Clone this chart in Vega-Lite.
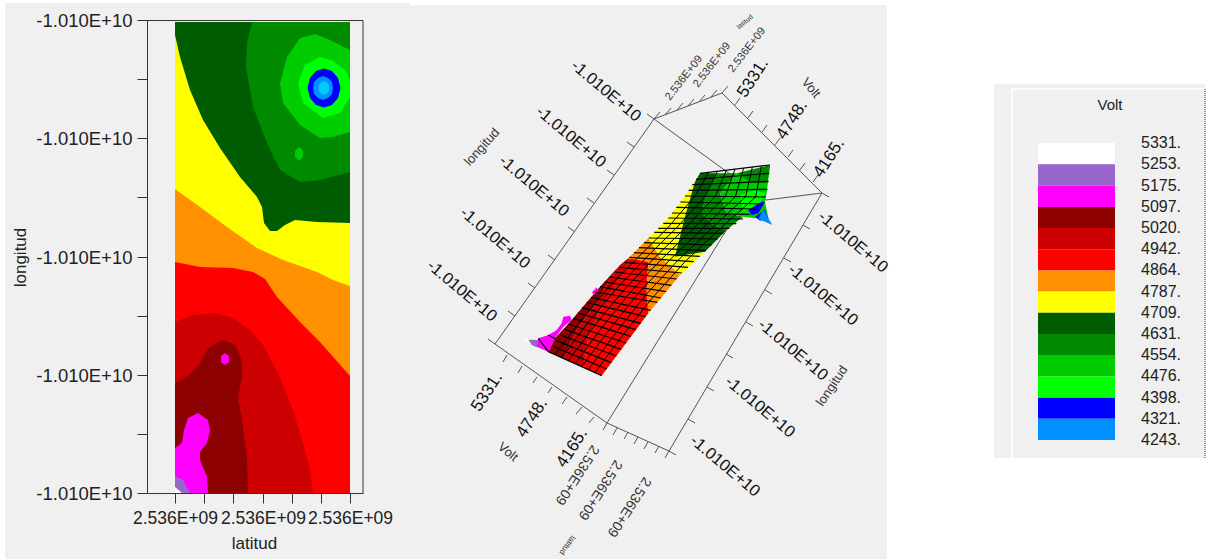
{"$schema":"https://vega.github.io/schema/vega-lite/v6.json","width":1208,"height":559,"padding":0,"autosize":{"type":"none"},"background":"#ffffff","config":{"view":{"stroke":null},"text":{"font":"Liberation Sans"},"axis":{"labelFont":"Liberation Sans","titleFont":"Liberation Sans"}},
"encoding":{"color":{"field":"b","type":"nominal","legend":null,"scale":{"domain":["5331","5253","5175","5097","5020","4942","4864","4787","4709","4631","4554","4476","4398","4321","4165"],"range":["#ffffff","#9966cc","#ff00ff","#8c0000","#cc0000","#ff0000","#ff9000","#ffff00","#005c00","#008a00","#00cc00","#00ff00","#0000ff","#0090ff","#00ccff"]}}},
"resolve":{"scale":{"x":"independent","y":"independent"}},
"layer":[
{"encoding":{"x":{"field":"x","type":"quantitative","axis":null,"scale":{"domain":[0,1208],"range":[0,1208],"nice":false,"zero":false}},"y":{"field":"y","type":"quantitative","axis":null,"scale":{"domain":[0,559],"range":[0,559],"nice":false,"zero":false}}},
"layer":[
{"data":{"values":[{"x":5,"x2":410,"y":3,"y2":559},{"x":410,"x2":887,"y":5,"y2":559},{"x":994,"x2":1205,"y":84,"y2":458}]},"mark":{"type":"rect","fill":"#f0f0f0"},"encoding":{"x2":{"field":"x2"},"y2":{"field":"y2"},"color":{"value":"#f0f0f0"}}},
{"data":{"values":[{"x":1012,"x2":1012,"y":89,"y2":458},{"x":1012,"x2":1204,"y":89,"y2":89}]},"mark":{"type":"rule","strokeWidth":1.5},"encoding":{"x2":{"field":"x2"},"y2":{"field":"y2"},"color":{"value":"#ffffff"}}},
{"data":{"values":[{"x":1205,"x2":1205,"y":89,"y2":458}]},"mark":{"type":"rule","strokeWidth":1.5,"strokeDash":[1,1]},"encoding":{"x2":{"field":"x2"},"y2":{"field":"y2"},"color":{"value":"#777777"}}},
{"data":{"values":[
{"x":654,"y":119,"x2":495,"y2":344},{"x":654,"y":119,"x2":722,"y2":93},{"x":722,"y":93,"x2":822,"y2":193},{"x":495,"y":344,"x2":607,"y2":423},{"x":607,"y":423,"x2":669,"y2":451},{"x":669,"y":451,"x2":822,"y2":193},{"x":654,"y":119,"x2":766,"y2":200},{"x":822,"y":193,"x2":766,"y2":200},{"x":607,"y":423,"x2":745,"y2":200},
{"x":654,"y":119,"x2":647,"y2":114},{"x":634,"y":147,"x2":627,"y2":142},{"x":614,"y":175,"x2":607,"y2":170},{"x":594,"y":203,"x2":587,"y2":198},{"x":575,"y":232,"x2":568,"y2":227},{"x":555,"y":260,"x2":548,"y2":255},{"x":535,"y":288,"x2":528,"y2":283},{"x":515,"y":316,"x2":508,"y2":311},{"x":495,"y":344,"x2":488,"y2":339},
{"x":669,"y":451,"x2":676,"y2":455},{"x":688,"y":419,"x2":695,"y2":423},{"x":707,"y":387,"x2":714,"y2":391},{"x":726,"y":354,"x2":733,"y2":358},{"x":746,"y":322,"x2":753,"y2":326},{"x":765,"y":290,"x2":772,"y2":294},{"x":784,"y":258,"x2":791,"y2":262},{"x":803,"y":225,"x2":810,"y2":229},{"x":822,"y":193,"x2":829,"y2":197},
{"x":735,"y":105,"x2":740,"y2":98},{"x":748,"y":118,"x2":753,"y2":111},{"x":762,"y":132,"x2":767,"y2":125},{"x":775,"y":145,"x2":780,"y2":138},{"x":788,"y":157,"x2":793,"y2":150},{"x":800,"y":170,"x2":805,"y2":163},{"x":813,"y":182,"x2":818,"y2":175},
{"x":507,"y":355,"x2":503,"y2":362},{"x":522,"y":366,"x2":518,"y2":373},{"x":537,"y":377,"x2":533,"y2":383},{"x":552,"y":387,"x2":548,"y2":393},{"x":567,"y":397,"x2":562,"y2":404},{"x":582,"y":407,"x2":576,"y2":414},{"x":594,"y":417,"x2":589,"y2":423},
{"x":654,"y":119,"x2":660,"y2":112},{"x":665,"y":115,"x2":671,"y2":108},{"x":677,"y":110,"x2":683,"y2":103},{"x":688,"y":106,"x2":694,"y2":99},{"x":699,"y":102,"x2":705,"y2":95},{"x":711,"y":97,"x2":717,"y2":90},{"x":722,"y":93,"x2":728,"y2":86},
{"x":607,"y":423,"x2":603,"y2":430},{"x":617,"y":428,"x2":613,"y2":435},{"x":628,"y":432,"x2":624,"y2":439},{"x":638,"y":437,"x2":634,"y2":444},{"x":648,"y":442,"x2":644,"y2":449},{"x":659,"y":446,"x2":655,"y2":453},{"x":669,"y":451,"x2":665,"y2":458}
]},"mark":{"type":"rule","strokeWidth":1},"encoding":{"x2":{"field":"x2"},"y2":{"field":"y2"},"color":{"value":"#555555"}}},
{"data":{"values":[{"x":147,"x2":363,"y":20.5,"y2":20.5},{"x":363,"x2":363,"y":20.5,"y2":493}]},"mark":{"type":"rule","strokeWidth":1},"encoding":{"x2":{"field":"x2"},"y2":{"field":"y2"},"color":{"value":"#333333"}}},
{"data":{"values":[{"x":606,"y":91,"t":"-1.010E+10"},{"x":571,"y":137,"t":"-1.010E+10"},{"x":534,"y":186,"t":"-1.010E+10"},{"x":495,"y":238,"t":"-1.010E+10"},{"x":462,"y":291,"t":"-1.010E+10"},{"x":725,"y":466,"t":"-1.010E+10"},{"x":760,"y":407,"t":"-1.010E+10"},{"x":793,"y":350,"t":"-1.010E+10"},{"x":823,"y":295,"t":"-1.010E+10"},{"x":853,"y":242,"t":"-1.010E+10"}]},"mark":{"type":"text","angle":40,"fontSize":16.5,"align":"center","baseline":"middle"},"encoding":{"text":{"field":"t"},"color":{"value":"#111111"}}},
{"data":{"values":[{"x":753,"y":78,"t":"5331."},{"x":792,"y":120,"t":"4748."},{"x":829,"y":158,"t":"4165."},{"x":487,"y":392,"t":"5331."},{"x":532,"y":418,"t":"4748."},{"x":572,"y":448,"t":"4165."}]},"mark":{"type":"text","angle":-57,"fontSize":17,"align":"center","baseline":"middle"},"encoding":{"text":{"field":"t"},"color":{"value":"#111111"}}},
{"data":{"values":[{"x":684,"y":78,"t":"2.536E+09"},{"x":712,"y":65,"t":"2.536E+09"},{"x":747,"y":50,"t":"2.536E+09"}]},"mark":{"type":"text","angle":-52,"fontSize":11,"align":"center","baseline":"middle"},"encoding":{"text":{"field":"t"},"color":{"value":"#333333"}}},
{"data":{"values":[{"x":745,"y":22,"t":"latitud"}]},"mark":{"type":"text","angle":-40,"fontSize":7,"align":"center","baseline":"middle"},"encoding":{"text":{"field":"t"},"color":{"value":"#333333"}}},
{"data":{"values":[{"x":577,"y":475,"t":"2.536E+09"},{"x":600,"y":490,"t":"2.536E+09"},{"x":629,"y":507,"t":"2.536E+09"}]},"mark":{"type":"text","angle":123,"fontSize":14,"align":"center","baseline":"middle"},"encoding":{"text":{"field":"t"},"color":{"value":"#333333"}}},
{"data":{"values":[{"x":567,"y":545,"t":"latitud"}]},"mark":{"type":"text","angle":125,"fontSize":8,"align":"center","baseline":"middle"},"encoding":{"text":{"field":"t"},"color":{"value":"#333333"}}},
{"data":{"values":[{"x":811,"y":88,"t":"Volt"}]},"mark":{"type":"text","angle":50,"fontSize":13,"align":"center","baseline":"middle"},"encoding":{"text":{"field":"t"},"color":{"value":"#333333"}}},
{"data":{"values":[{"x":508,"y":452,"t":"Volt"}]},"mark":{"type":"text","angle":40,"fontSize":13,"align":"center","baseline":"middle"},"encoding":{"text":{"field":"t"},"color":{"value":"#333333"}}},
{"data":{"values":[{"x":482,"y":147,"t":"longitud"}]},"mark":{"type":"text","angle":-48,"fontSize":13,"align":"center","baseline":"middle"},"encoding":{"text":{"field":"t"},"color":{"value":"#333333"}}},
{"data":{"values":[{"x":832,"y":386,"t":"longitud"}]},"mark":{"type":"text","angle":-56,"fontSize":13,"align":"center","baseline":"middle"},"encoding":{"text":{"field":"t"},"color":{"value":"#333333"}}},
{"data":{"values":[{"x":1110,"y":105,"t":"Volt"}]},"mark":{"type":"text","fontSize":15,"align":"center","baseline":"middle"},"encoding":{"text":{"field":"t"},"color":{"value":"#222222"}}}
]},
{"encoding":{"x":{"field":"x","type":"quantitative","axis":null,"scale":{"domain":[0,930],"range":[520,830],"nice":false,"zero":false}},"y":{"field":"y","type":"quantitative","axis":null,"scale":{"domain":[0,720],"range":[150,390],"nice":false,"zero":false}}},
"layer":[
{"data":{"values":[
{"g":1,"b":"5331","x":5,"y":565},{"g":1,"b":"5331","x":30,"y":570},{"g":1,"b":"5331","x":40,"y":587},
{"g":2,"b":"5253","x":25,"y":569},{"g":2,"b":"5253","x":60,"y":570},{"g":2,"b":"5253","x":50,"y":592},{"g":2,"b":"5253","x":35,"y":585},
{"g":3,"b":"5175","x":55,"y":565},{"g":3,"b":"5175","x":85,"y":555},{"g":3,"b":"5175","x":110,"y":540},{"g":3,"b":"5175","x":125,"y":520},{"g":3,"b":"5175","x":130,"y":500},{"g":3,"b":"5175","x":150,"y":497},{"g":3,"b":"5175","x":155,"y":510},{"g":3,"b":"5175","x":130,"y":530},{"g":3,"b":"5175","x":105,"y":565},{"g":3,"b":"5175","x":85,"y":605},{"g":3,"b":"5175","x":50,"y":590},
{"g":4,"b":"4942","x":190,"y":652},{"g":4,"b":"4942","x":205,"y":560},{"g":4,"b":"4942","x":245,"y":470},{"g":4,"b":"4942","x":290,"y":400},{"g":4,"b":"4942","x":325,"y":325},{"g":4,"b":"4942","x":385,"y":335},{"g":4,"b":"4942","x":380,"y":420},{"g":4,"b":"4942","x":385,"y":490},{"g":4,"b":"4942","x":245,"y":677},
{"g":5,"b":"5020","x":130,"y":625},{"g":5,"b":"5020","x":170,"y":540},{"g":5,"b":"5020","x":235,"y":450},{"g":5,"b":"5020","x":265,"y":395},{"g":5,"b":"5020","x":300,"y":345},{"g":5,"b":"5020","x":325,"y":325},{"g":5,"b":"5020","x":325,"y":335},{"g":5,"b":"5020","x":290,"y":400},{"g":5,"b":"5020","x":245,"y":470},{"g":5,"b":"5020","x":205,"y":560},{"g":5,"b":"5020","x":190,"y":652},
{"g":6,"b":"5097","x":85,"y":605},{"g":6,"b":"5097","x":105,"y":565},{"g":6,"b":"5097","x":155,"y":510},{"g":6,"b":"5097","x":240,"y":410},{"g":6,"b":"5097","x":300,"y":345},{"g":6,"b":"5097","x":265,"y":395},{"g":6,"b":"5097","x":235,"y":450},{"g":6,"b":"5097","x":170,"y":540},{"g":6,"b":"5097","x":130,"y":625},
{"g":7,"b":"5175","x":215,"y":428},{"g":7,"b":"5175","x":230,"y":412},{"g":7,"b":"5175","x":235,"y":425},{"g":7,"b":"5175","x":222,"y":432},
{"g":8,"b":"4864","x":325,"y":325},{"g":8,"b":"4864","x":385,"y":265},{"g":8,"b":"4864","x":420,"y":320},{"g":8,"b":"4864","x":480,"y":375},{"g":8,"b":"4864","x":385,"y":490},{"g":8,"b":"4864","x":380,"y":420},{"g":8,"b":"4864","x":385,"y":335},
{"g":9,"b":"4787","x":385,"y":265},{"g":9,"b":"4787","x":440,"y":210},{"g":9,"b":"4787","x":490,"y":145},{"g":9,"b":"4787","x":525,"y":95},{"g":9,"b":"4787","x":495,"y":200},{"g":9,"b":"4787","x":480,"y":260},{"g":9,"b":"4787","x":465,"y":320},{"g":9,"b":"4787","x":555,"y":305},{"g":9,"b":"4787","x":480,"y":375},{"g":9,"b":"4787","x":420,"y":320},
{"g":10,"b":"4709","x":540,"y":70},{"g":10,"b":"4709","x":525,"y":95},{"g":10,"b":"4709","x":495,"y":200},{"g":10,"b":"4709","x":480,"y":260},{"g":10,"b":"4709","x":465,"y":320},{"g":10,"b":"4709","x":555,"y":305},{"g":10,"b":"4709","x":620,"y":240},{"g":10,"b":"4709","x":580,"y":225},{"g":10,"b":"4709","x":545,"y":190},{"g":10,"b":"4709","x":560,"y":130},{"g":10,"b":"4709","x":590,"y":70},
{"g":11,"b":"4631","x":590,"y":70},{"g":11,"b":"4631","x":560,"y":130},{"g":11,"b":"4631","x":545,"y":190},{"g":11,"b":"4631","x":580,"y":225},{"g":11,"b":"4631","x":620,"y":240},{"g":11,"b":"4631","x":650,"y":215},{"g":11,"b":"4631","x":670,"y":200},{"g":11,"b":"4631","x":620,"y":190},{"g":11,"b":"4631","x":600,"y":130},{"g":11,"b":"4631","x":650,"y":70},
{"g":12,"b":"4554","x":650,"y":70},{"g":12,"b":"4554","x":600,"y":130},{"g":12,"b":"4554","x":620,"y":190},{"g":12,"b":"4554","x":670,"y":200},{"g":12,"b":"4554","x":705,"y":205},{"g":12,"b":"4554","x":745,"y":205},{"g":12,"b":"4554","x":735,"y":155},{"g":12,"b":"4554","x":740,"y":130},{"g":12,"b":"4554","x":750,"y":45},{"g":12,"b":"4554","x":700,"y":65},
{"g":18,"b":"4631","x":650,"y":70},{"g":18,"b":"4631","x":750,"y":45},{"g":18,"b":"4631","x":742,"y":100},{"g":18,"b":"4631","x":690,"y":95},
{"g":13,"b":"4476","x":660,"y":135},{"g":13,"b":"4476","x":705,"y":120},{"g":13,"b":"4476","x":735,"y":130},{"g":13,"b":"4476","x":715,"y":170},{"g":13,"b":"4476","x":670,"y":185},
{"g":14,"b":"4398","x":685,"y":180},{"g":14,"b":"4398","x":725,"y":155},{"g":14,"b":"4398","x":735,"y":155},{"g":14,"b":"4398","x":715,"y":190},{"g":14,"b":"4398","x":695,"y":195},
{"g":15,"b":"4398","x":705,"y":200},{"g":15,"b":"4398","x":735,"y":180},{"g":15,"b":"4398","x":745,"y":205},{"g":15,"b":"4398","x":720,"y":212},
{"g":16,"b":"4321","x":730,"y":178},{"g":16,"b":"4321","x":757,"y":225},{"g":16,"b":"4321","x":715,"y":207}
]},"mark":{"type":"line","filled":true,"order":false},"encoding":{"detail":{"field":"g"}}},
{"data":{"values":[
{"x":85,"y":605,"x2":245,"y2":677},{"x":97,"y":588,"x2":260,"y2":657},{"x":109,"y":572,"x2":274,"y2":638},{"x":121,"y":555,"x2":289,"y2":618},{"x":134,"y":538,"x2":304,"y2":598},{"x":146,"y":522,"x2":318,"y2":579},{"x":160,"y":505,"x2":333,"y2":559},{"x":173,"y":489,"x2":348,"y2":539},{"x":186,"y":473,"x2":362,"y2":520},{"x":200,"y":457,"x2":377,"y2":500},{"x":213,"y":442,"x2":392,"y2":481},{"x":226,"y":426,"x2":412,"y2":457},{"x":240,"y":410,"x2":423,"y2":444},{"x":254,"y":396,"x2":438,"y2":425},{"x":269,"y":381,"x2":454,"y2":406},{"x":284,"y":366,"x2":470,"y2":387},{"x":298,"y":352,"x2":486,"y2":369},{"x":313,"y":337,"x2":504,"y2":352},{"x":328,"y":322,"x2":521,"y2":335},{"x":342,"y":308,"x2":539,"y2":319},{"x":357,"y":293,"x2":558,"y2":302},{"x":372,"y":278,"x2":575,"y2":285},{"x":386,"y":264,"x2":593,"y2":267},{"x":403,"y":247,"x2":610,"y2":250},{"x":415,"y":235,"x2":628,"y2":235},{"x":430,"y":220,"x2":649,"y2":221},{"x":445,"y":204,"x2":669,"y2":207},{"x":456,"y":189,"x2":689,"y2":193},{"x":469,"y":172,"x2":708,"y2":177},{"x":481,"y":156,"x2":727,"y2":162},{"x":495,"y":138,"x2":737,"y2":141},{"x":506,"y":121,"x2":742,"y2":118},{"x":517,"y":104,"x2":746,"y2":94},{"x":528,"y":88,"x2":748,"y2":70},{"x":540,"y":70,"x2":750,"y2":45},{"x":85,"y":555,"x2":105,"y2":566},{"x":55,"y":565,"x2":85,"y2":605}
]},"mark":{"type":"rule","strokeWidth":1.2},"encoding":{"x2":{"field":"x2"},"y2":{"field":"y2"},"color":{"value":"#000000"}}},
{"data":{"values":[
{"m":1,"x":105,"y":614},{"m":1,"x":182,"y":512},{"m":1,"x":263,"y":414},{"m":1,"x":352,"y":324},{"m":1,"x":442,"y":235},{"m":1,"x":525,"y":138},{"m":1,"x":566,"y":67},
{"m":2,"x":125,"y":623},{"m":2,"x":203,"y":519},{"m":2,"x":286,"y":419},{"m":2,"x":376,"y":325},{"m":2,"x":468,"y":235},{"m":2,"x":556,"y":139},{"m":2,"x":592,"y":64},
{"m":3,"x":145,"y":632},{"m":3,"x":225,"y":525},{"m":3,"x":309,"y":423},{"m":3,"x":400,"y":327},{"m":3,"x":495,"y":235},{"m":3,"x":586,"y":139},{"m":3,"x":619,"y":61},
{"m":4,"x":165,"y":641},{"m":4,"x":246,"y":532},{"m":4,"x":331,"y":427},{"m":4,"x":424,"y":328},{"m":4,"x":521,"y":235},{"m":4,"x":616,"y":139},{"m":4,"x":645,"y":57},
{"m":5,"x":185,"y":650},{"m":5,"x":268,"y":539},{"m":5,"x":354,"y":431},{"m":5,"x":449,"y":330},{"m":5,"x":548,"y":235},{"m":5,"x":646,"y":140},{"m":5,"x":671,"y":54},
{"m":6,"x":205,"y":659},{"m":6,"x":290,"y":545},{"m":6,"x":377,"y":435},{"m":6,"x":473,"y":332},{"m":6,"x":575,"y":235},{"m":6,"x":677,"y":140},{"m":6,"x":697,"y":51},
{"m":7,"x":225,"y":668},{"m":7,"x":311,"y":552},{"m":7,"x":400,"y":440},{"m":7,"x":497,"y":333},{"m":7,"x":601,"y":235},{"m":7,"x":707,"y":141},{"m":7,"x":724,"y":48}
]},"mark":{"type":"line","strokeWidth":1,"order":false},"encoding":{"detail":{"field":"m"},"color":{"value":"#000000"}}}
]},
{"data":{"values":[
{"g":1,"b":"4942","lat":0,"lon":0},{"g":1,"b":"4942","lat":175,"lon":0},{"g":1,"b":"4942","lat":175,"lon":471},{"g":1,"b":"4942","lat":0,"lon":471},
{"g":2,"b":"4864","lat":0,"lon":231},{"g":2,"b":"4864","lat":25,"lon":226},{"g":2,"b":"4864","lat":58,"lon":225},{"g":2,"b":"4864","lat":78,"lon":221},{"g":2,"b":"4864","lat":90,"lon":214},{"g":2,"b":"4864","lat":102,"lon":196},{"g":2,"b":"4864","lat":125,"lon":171},{"g":2,"b":"4864","lat":145,"lon":151},{"g":2,"b":"4864","lat":175,"lon":117},{"g":2,"b":"4864","lat":175,"lon":471},{"g":2,"b":"4864","lat":0,"lon":471},
{"g":3,"b":"4787","lat":0,"lon":304},{"g":3,"b":"4787","lat":25,"lon":286},{"g":3,"b":"4787","lat":52,"lon":266},{"g":3,"b":"4787","lat":82,"lon":245},{"g":3,"b":"4787","lat":108,"lon":233},{"g":3,"b":"4787","lat":142,"lon":221},{"g":3,"b":"4787","lat":158,"lon":213},{"g":3,"b":"4787","lat":175,"lon":207},{"g":3,"b":"4787","lat":175,"lon":471},{"g":3,"b":"4787","lat":0,"lon":471},
{"g":4,"b":"4709","lat":0,"lon":458},{"g":4,"b":"4709","lat":5,"lon":436},{"g":4,"b":"4709","lat":15,"lon":403},{"g":4,"b":"4709","lat":28,"lon":373},{"g":4,"b":"4709","lat":45,"lon":345},{"g":4,"b":"4709","lat":65,"lon":316},{"g":4,"b":"4709","lat":82,"lon":296},{"g":4,"b":"4709","lat":87,"lon":286},{"g":4,"b":"4709","lat":89,"lon":270},{"g":4,"b":"4709","lat":95,"lon":262},{"g":4,"b":"4709","lat":102,"lon":262},{"g":4,"b":"4709","lat":110,"lon":268},{"g":4,"b":"4709","lat":120,"lon":273},{"g":4,"b":"4709","lat":142,"lon":271},{"g":4,"b":"4709","lat":175,"lon":270},{"g":4,"b":"4709","lat":175,"lon":471},{"g":4,"b":"4709","lat":0,"lon":471},
{"g":5,"b":"4631","lat":77,"lon":471},{"g":5,"b":"4631","lat":72,"lon":450},{"g":5,"b":"4631","lat":71,"lon":426},{"g":5,"b":"4631","lat":78,"lon":386},{"g":5,"b":"4631","lat":92,"lon":350},{"g":5,"b":"4631","lat":105,"lon":323},{"g":5,"b":"4631","lat":125,"lon":311},{"g":5,"b":"4631","lat":145,"lon":313},{"g":5,"b":"4631","lat":175,"lon":321},{"g":5,"b":"4631","lat":175,"lon":471},
{"g":6,"b":"4554","lat":175,"lon":443},{"g":6,"b":"4554","lat":155,"lon":453},{"g":6,"b":"4554","lat":140,"lon":459},{"g":6,"b":"4554","lat":125,"lon":455},{"g":6,"b":"4554","lat":112,"lon":436},{"g":6,"b":"4554","lat":105,"lon":410},{"g":6,"b":"4554","lat":108,"lon":390},{"g":6,"b":"4554","lat":125,"lon":368},{"g":6,"b":"4554","lat":145,"lon":355},{"g":6,"b":"4554","lat":158,"lon":356},{"g":6,"b":"4554","lat":175,"lon":361},
{"g":7,"b":"4554","lat":124,"lon":346},{"g":7,"b":"4554","lat":128,"lon":342},{"g":7,"b":"4554","lat":128,"lon":336},{"g":7,"b":"4554","lat":124,"lon":332},{"g":7,"b":"4554","lat":120,"lon":336},{"g":7,"b":"4554","lat":120,"lon":342},
{"g":8,"b":"4476","lat":175,"lon":413},{"g":8,"b":"4476","lat":170,"lon":423},{"g":8,"b":"4476","lat":158,"lon":432},{"g":8,"b":"4476","lat":145,"lon":436},{"g":8,"b":"4476","lat":130,"lon":428},{"g":8,"b":"4476","lat":123,"lon":410},{"g":8,"b":"4476","lat":128,"lon":390},{"g":8,"b":"4476","lat":148,"lon":375},{"g":8,"b":"4476","lat":165,"lon":380},{"g":8,"b":"4476","lat":175,"lon":396},
{"g":9,"b":"4398","lat":165.5,"lon":405},{"g":9,"b":"4398","lat":163,"lon":415},{"g":9,"b":"4398","lat":157,"lon":422},{"g":9,"b":"4398","lat":149,"lon":424.5},{"g":9,"b":"4398","lat":141,"lon":422},{"g":9,"b":"4398","lat":135,"lon":415},{"g":9,"b":"4398","lat":132.5,"lon":405},{"g":9,"b":"4398","lat":135,"lon":395},{"g":9,"b":"4398","lat":141,"lon":388},{"g":9,"b":"4398","lat":149,"lon":385.5},{"g":9,"b":"4398","lat":157,"lon":388},{"g":9,"b":"4398","lat":163,"lon":395},
{"g":10,"b":"4321","lat":158,"lon":405},{"g":10,"b":"4321","lat":157,"lon":411},{"g":10,"b":"4321","lat":153,"lon":415},{"g":10,"b":"4321","lat":148,"lon":417},{"g":10,"b":"4321","lat":143,"lon":415},{"g":10,"b":"4321","lat":139,"lon":411},{"g":10,"b":"4321","lat":138,"lon":405},{"g":10,"b":"4321","lat":139,"lon":399},{"g":10,"b":"4321","lat":143,"lon":395},{"g":10,"b":"4321","lat":148,"lon":393},{"g":10,"b":"4321","lat":153,"lon":395},{"g":10,"b":"4321","lat":157,"lon":399},
{"g":11,"b":"4165","lat":154.5,"lon":405},{"g":11,"b":"4165","lat":153,"lon":410},{"g":11,"b":"4165","lat":149,"lon":412},{"g":11,"b":"4165","lat":145,"lon":410},{"g":11,"b":"4165","lat":143.5,"lon":405},{"g":11,"b":"4165","lat":145,"lon":400},{"g":11,"b":"4165","lat":149,"lon":398},{"g":11,"b":"4165","lat":153,"lon":400},
{"g":12,"b":"5020","lat":0,"lon":171},{"g":12,"b":"5020","lat":18,"lon":178},{"g":12,"b":"5020","lat":38,"lon":180},{"g":12,"b":"5020","lat":58,"lon":175},{"g":12,"b":"5020","lat":75,"lon":163},{"g":12,"b":"5020","lat":88,"lon":148},{"g":12,"b":"5020","lat":105,"lon":116},{"g":12,"b":"5020","lat":118,"lon":83},{"g":12,"b":"5020","lat":128,"lon":50},{"g":12,"b":"5020","lat":135,"lon":23},{"g":12,"b":"5020","lat":138,"lon":0},{"g":12,"b":"5020","lat":0,"lon":0},
{"g":13,"b":"5097","lat":0,"lon":110},{"g":13,"b":"5097","lat":12,"lon":116},{"g":13,"b":"5097","lat":25,"lon":130},{"g":13,"b":"5097","lat":33,"lon":145},{"g":13,"b":"5097","lat":48,"lon":153},{"g":13,"b":"5097","lat":60,"lon":148},{"g":13,"b":"5097","lat":67,"lon":133},{"g":13,"b":"5097","lat":67,"lon":116},{"g":13,"b":"5097","lat":63,"lon":96},{"g":13,"b":"5097","lat":67,"lon":73},{"g":13,"b":"5097","lat":72,"lon":36},{"g":13,"b":"5097","lat":73,"lon":0},{"g":13,"b":"5097","lat":0,"lon":0},
{"g":14,"b":"5175","lat":0,"lon":45},{"g":14,"b":"5175","lat":7,"lon":50},{"g":14,"b":"5175","lat":9,"lon":63},{"g":14,"b":"5175","lat":13,"lon":75},{"g":14,"b":"5175","lat":23,"lon":80},{"g":14,"b":"5175","lat":33,"lon":73},{"g":14,"b":"5175","lat":35,"lon":63},{"g":14,"b":"5175","lat":32,"lon":50},{"g":14,"b":"5175","lat":25,"lon":41},{"g":14,"b":"5175","lat":25,"lon":33},{"g":14,"b":"5175","lat":32,"lon":16},{"g":14,"b":"5175","lat":33,"lon":0},{"g":14,"b":"5175","lat":0,"lon":0},
{"g":15,"b":"5175","lat":50,"lon":140},{"g":15,"b":"5175","lat":54,"lon":137},{"g":15,"b":"5175","lat":54,"lon":131},{"g":15,"b":"5175","lat":50,"lon":128},{"g":15,"b":"5175","lat":46,"lon":131},{"g":15,"b":"5175","lat":46,"lon":137},
{"g":16,"b":"5253","lat":0,"lon":17},{"g":16,"b":"5253","lat":8,"lon":13},{"g":16,"b":"5253","lat":15,"lon":0},{"g":16,"b":"5253","lat":0,"lon":0},
{"g":17,"b":"5331","lat":0,"lon":6},{"g":17,"b":"5331","lat":7,"lon":0},{"g":17,"b":"5331","lat":0,"lon":0}
]},"mark":{"type":"line","filled":true,"order":false},"encoding":{"detail":{"field":"g"},"x":{"field":"lat","type":"quantitative","scale":{"domain":[-28,188],"range":[147,363],"nice":false,"zero":false},"axis":{"zindex":1,"orient":"bottom","offset":-66,"title":"latitud","titleFontSize":17,"titleFontWeight":"normal","titleColor":"#222222","titleX":254,"titleY":50,"titleAlign":"center","titleBaseline":"middle","values":[0,29,58,88,117,146,175],"labelExpr":"indexof([0,88,175],datum.value)>=0?'2.536E+09':''","labelFontSize":17.5,"labelColor":"#222222","labelPadding":6,"labelOverlap":false,"labelFlush":false,"labelBound":false,"tickSize":10,"tickColor":"#333333","domainColor":"#333333","grid":false}},
"y":{"field":"lon","type":"quantitative","scale":{"domain":[0,473],"range":[493,20],"nice":false,"zero":false},"axis":{"zindex":1,"orient":"left","offset":-147,"title":"longitud","titleFontSize":17,"titleFontWeight":"normal","titleColor":"#222222","titleX":-127,"titleY":257,"titleAlign":"center","titleBaseline":"middle","values":[0,59,118,177,236,296,355,414,473],"labelExpr":"indexof([0,118,236,355,473],datum.value)>=0?'-1.010E+10':''","labelFontSize":18.5,"labelColor":"#222222","labelPadding":5,"labelOverlap":false,"labelFlush":false,"labelBound":false,"tickSize":10,"tickColor":"#333333","domainColor":"#333333","grid":false}}}},
{"encoding":{"y":{"field":"v","type":"quantitative","axis":null,"scale":{"domain":[4243,5331],"range":[440,143],"nice":false,"zero":false}}},
"layer":[
{"data":{"values":[{"b":"5331","v":5331,"v2":5253},{"b":"5253","v":5253,"v2":5175},{"b":"5175","v":5175,"v2":5097},{"b":"5097","v":5097,"v2":5020},{"b":"5020","v":5020,"v2":4942},{"b":"4942","v":4942,"v2":4864},{"b":"4864","v":4864,"v2":4787},{"b":"4787","v":4787,"v2":4709},{"b":"4709","v":4709,"v2":4631},{"b":"4631","v":4631,"v2":4554},{"b":"4554","v":4554,"v2":4476},{"b":"4476","v":4476,"v2":4398},{"b":"4398","v":4398,"v2":4321},{"b":"4321","v":4321,"v2":4243}]},"mark":{"type":"rect"},"encoding":{"y2":{"field":"v2"},"x":{"value":1038},"x2":{"value":1115}}},
{"data":{"values":[{"v":5331,"t":"5331."},{"v":5253,"t":"5253."},{"v":5175,"t":"5175."},{"v":5097,"t":"5097."},{"v":5020,"t":"5020."},{"v":4942,"t":"4942."},{"v":4864,"t":"4864."},{"v":4787,"t":"4787."},{"v":4709,"t":"4709."},{"v":4631,"t":"4631."},{"v":4554,"t":"4554."},{"v":4476,"t":"4476."},{"v":4398,"t":"4398."},{"v":4321,"t":"4321."},{"v":4243,"t":"4243."}]},"mark":{"type":"text","align":"left","baseline":"middle","fontSize":16},"encoding":{"x":{"value":1141},"text":{"field":"t"},"color":{"value":"#222222"}}}
]}
]}
